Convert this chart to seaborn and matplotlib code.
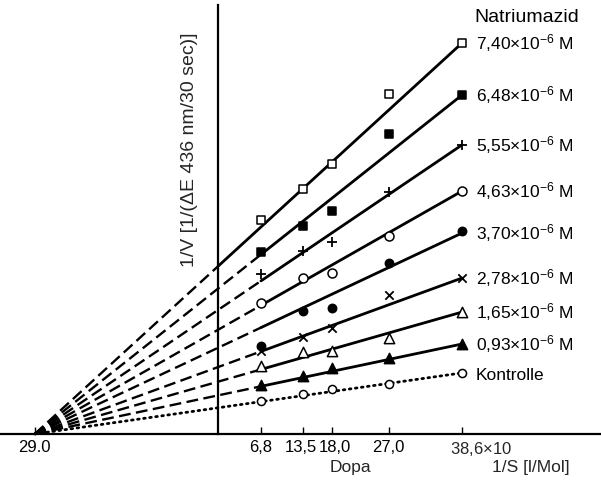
import numpy as np
import matplotlib
matplotlib.use("Agg")
import matplotlib.pyplot as plt
import matplotlib.transforms as mtransforms
import seaborn as sns

# ---------------- data ----------------
x_dopa = [6.8, 13.5, 18.0, 27.0, 38.6]
x_intercept = -29.0
tick_pos = [-29.0, 6.8, 13.5, 18.0, 27.0, 38.6]
tick_labels = ["29.0", "6,8", "13,5", "18,0", "27,0", ""]

series_names = ["7,40", "6,48", "5,55", "4,63", "3,70", "2,78", "1,65", "0,93", "Kontrolle"]
y_740 = [21.4, 24.5, 27.0, 34.0, 39.1]
y_648 = [18.2, 20.8, 22.3, 30.0, 33.9]
y_555 = [16.0, 18.3, 19.2, 24.2, 28.9]
y_463 = [13.1, 15.6, 16.1, 19.8, 24.3]
y_370 = [8.8, 12.3, 12.6, 17.1, 20.3]
y_278 = [8.3, 9.7, 10.6, 13.9, 15.6]
y_165 = [6.8, 8.2, 8.3, 9.6, 12.2]
y_093 = [4.9, 5.8, 6.6, 7.6, 9.0]
y_kontrolle = [3.3, 4.0, 4.5, 5.0, 6.1]
series_values = [y_740, y_648, y_555, y_463, y_370, y_278, y_165, y_093, y_kontrolle]
# fitted 1/V intercepts (x = 0)
intercepts = [16.77, 14.54, 12.40, 10.42, 8.62, 6.69, 5.23, 3.86, 2.62]

# ---------------- style ----------------
sns.set_theme(style="white")
FONT = "Liberation Sans"
plt.rcParams["font.family"] = [FONT, "DejaVu Sans"]
plt.rcParams["mathtext.fontset"] = "custom"
plt.rcParams["mathtext.rm"] = FONT
plt.rcParams["mathtext.it"] = FONT + ":italic"
plt.rcParams["mathtext.bf"] = FONT + ":bold"

FS = 12.5

fig = plt.figure(figsize=(6.01, 4.86), dpi=100)
ax = fig.add_axes([0, 0, 1, 1])
ax.set_facecolor("white")
fig.patch.set_facecolor("white")

ax.set_xlim(-218 / 6.32, 383 / 6.32)
ax.set_ylim(-5.2, 43.4)

# marker styles: (marker, facecolor, size)
styles = [
    ("s", "white", 30),
    ("s", "black", 30),
    ("+", None, 60),
    ("o", "white", 42),
    ("o", "black", 36),
    ("x", None, 36),
    ("^", "white", 55),
    ("^", "black", 55),
    ("o", "white", 34),
]

x_end = x_dopa[-1]
for i, (name, vals, b, st) in enumerate(zip(series_names, series_values, intercepts, styles)):
    def line_y(xx):
        return b * (1 - xx / x_intercept)
    if name == "Kontrolle":
        xs = np.array([x_intercept, x_end])
        sns.lineplot(x=xs, y=line_y(xs), ax=ax, color="black", lw=2.0,
                     linestyle=(0, (0.6, 1.6)), dash_capstyle="round")
    else:
        x_switch = 0.0 if i == 0 else x_dopa[0]
        xs = np.array([x_intercept, x_switch])
        sns.lineplot(x=xs, y=line_y(xs), ax=ax, color="black", lw=1.7,
                     linestyle=(0, (5, 2.3)))
        xs = np.array([x_switch, x_end])
        sns.lineplot(x=xs, y=line_y(xs), ax=ax, color="black", lw=2.0,
                     linestyle="-")
    m, fc, s = st
    if fc is None:
        sns.scatterplot(x=x_dopa, y=vals, ax=ax, marker=m, s=s, color="black",
                        linewidth=1.3, zorder=4)
    else:
        sns.scatterplot(x=x_dopa, y=vals, ax=ax, marker=m, s=s, color="black",
                        facecolor=fc, edgecolor="black", linewidth=1.1, zorder=4)
    # right-hand label
    if name == "Kontrolle":
        txt = "Kontrolle"
    else:
        txt = name + r"$\times$10$^{-6}$ M"
    ax.annotate(txt, xy=(x_end, line_y(x_end)), xytext=(10, -4.8),
                textcoords="offset points", ha="left", va="baseline",
                fontsize=FS, color="black")

ax.annotate("Natriumazid", xy=(0.877, 1 - 18 / 486), xycoords="axes fraction",
            ha="center", va="center", fontsize=FS + 1.5, color="black")

# axes lines
for side in ["top", "right"]:
    ax.spines[side].set_visible(False)
ax.spines["bottom"].set_position(("data", 0))
ax.spines["left"].set_position(("data", 0))
ax.spines["left"].set_bounds(0, 42.9)
for side in ["bottom", "left"]:
    ax.spines[side].set_color("black")
    ax.spines[side].set_linewidth(1.6)

ax.set_xticks(tick_pos)
ax.set_xticklabels(tick_labels)
ax.tick_params(axis="x", direction="in", length=5, width=1.0, pad=4,
               labelsize=12, colors="black", bottom=True)
ax.tick_params(axis="y", left=False, labelleft=False)
ax.set_xlabel("")
ax.set_ylabel("")
ax.grid(False)

# small horizontal nudges of the crowded tick labels (points)
nudges = {"13,5": -2.0, "18,0": 2.5}
for lab in ax.get_xticklabels():
    dx = nudges.get(lab.get_text(), 0.0)
    if dx:
        lab.set_transform(lab.get_transform() +
                          mtransforms.ScaledTranslation(dx / 72, 0, fig.dpi_scale_trans))

ax.text(x_end - 1.9, -1.45, r"38,6$\times$10", ha="left", va="center", fontsize=12)
ax.text((350 - 218) / 6.32, (434 - 467) / 10, "Dopa", ha="center", va="center", fontsize=FS)
ax.text((531 - 218) / 6.32, (434 - 467) / 10, "1/S [l/Mol]", ha="center", va="center", fontsize=FS)
ax.text((190 - 218) / 6.32, (434 - 150) / 10, "1/V [1/(ΔE 436 nm/30 sec)]",
        rotation=90, ha="center", va="center", fontsize=14)

fig.savefig("out.png", dpi=100, facecolor="white")
